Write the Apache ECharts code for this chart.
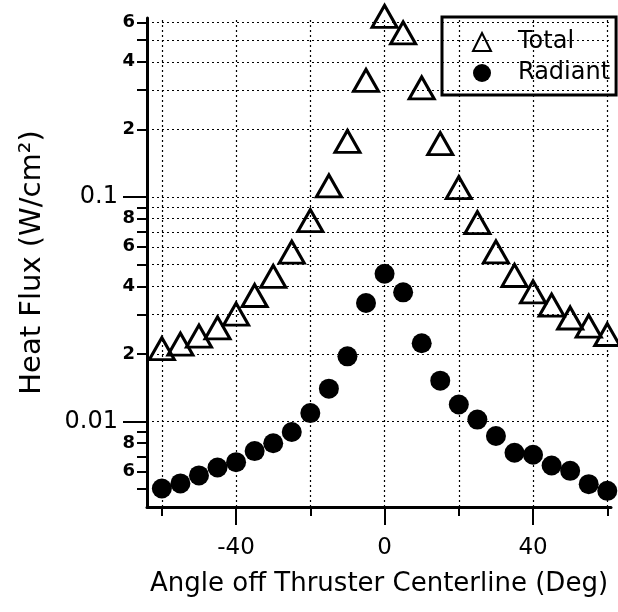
<!DOCTYPE html>
<html>
<head>
<meta charset="utf-8">
<script src="https://cdn.jsdelivr.net/npm/echarts@6/dist/echarts.min.js"></script>
<style>
  html, body { margin: 0; padding: 0; background: #fff; }
  #chart { width: 618px; height: 612px; }
</style>
</head>
<body>
<div id="chart"></div>
<script>
// angle off centerline (deg)
const angles = [-60, -55, -50, -45, -40, -35, -30, -25, -20, -15, -10, -5, 0,
                5, 10, 15, 20, 25, 30, 35, 40, 45, 50, 55, 60];
// heat flux, W/cm^2
const total = [0.0211, 0.0221, 0.0240, 0.0261, 0.0301, 0.0364, 0.0443, 0.0568, 0.0784,
               0.112, 0.177, 0.331, 0.637, 0.538, 0.306, 0.173, 0.110, 0.0769, 0.0570,
               0.0447, 0.0378, 0.0330, 0.0289, 0.0266, 0.0244];
const radiant = [0.00503, 0.00530, 0.00575, 0.00624, 0.00659, 0.00738, 0.00800, 0.00898,
                 0.0109, 0.0140, 0.0195, 0.0337, 0.0455, 0.0376, 0.0223, 0.0152, 0.0119,
                 0.0102, 0.00862, 0.00726, 0.00711, 0.00637, 0.00603, 0.00526, 0.00491];

// axis ticks
const xMinorTicks = [-60, -20, 20, 60];
const xMajorTicks = [-40, 0, 40];
const xGrid = [-60, -40, -20, 0, 20, 40, 60];
const yMajorTicks = [0.01, 0.1];
const yMinorTicks = [0.005, 0.006, 0.007, 0.008, 0.009,
                     0.02, 0.03, 0.04, 0.05, 0.06, 0.07, 0.08, 0.09,
                     0.2, 0.3, 0.4, 0.5, 0.6];
const yMinorLabels = [0.006, 0.008, 0.02, 0.04, 0.06, 0.08, 0.2, 0.4, 0.6];

const chart = echarts.init(document.getElementById('chart'));

const font = 'DejaVu Sans';
const black = '#000';
const dotted = { color: '#000', width: 1.2, type: [2, 3] };

function digit(v) {
    const p = Math.pow(10, Math.floor(Math.log10(v) + 1e-9));
    return String(Math.round(v / p));
}

const xBase = {
    type: 'value',
    min: -64,
    max: 61,
    splitLine: { show: false }
};
const yBase = {
    type: 'log',
    logBase: 10,
    min: 0.00416,
    max: 0.627,
    position: 'left',
    splitLine: { show: false }
};

const option = {
    backgroundColor: '#fff',
    animation: false,
    grid: { left: 147, right: 7, top: 18, bottom: 105 },
    legend: {
        orient: 'vertical',
        left: 442,
        top: 17,
        padding: [13, 6, 10, 30],
        itemWidth: 18,
        itemHeight: 18,
        itemGap: 7,
        borderColor: black,
        borderWidth: 3,
        borderRadius: 0,
        backgroundColor: '#fff',
        selectedMode: false,
        textStyle: { color: black, fontSize: 24, fontFamily: font, padding: [0, 0, 0, 22] },
        data: ['Total', 'Radiant']
    },
    xAxis: [
        Object.assign({}, xBase, {
            axisLine: { show: true, onZero: false, lineStyle: { color: black, width: 3 } },
            axisTick: { show: true, customValues: xMinorTicks, length: 9, lineStyle: { color: black, width: 2 } },
            axisLabel: { show: false }
        }),
        Object.assign({}, xBase, {
            position: 'bottom',
            axisLine: { show: false, onZero: false },
            axisTick: { show: true, customValues: xMajorTicks, length: 18, lineStyle: { color: black, width: 2 } },
            axisLabel: {
                customValues: xMajorTicks,
                color: black,
                fontSize: 23,
                fontFamily: font,
                margin: 30,
                formatter: v => String(v)
            },
            name: 'Angle off Thruster Centerline (Deg)',
            nameLocation: 'middle',
            nameGap: 64,
            nameTextStyle: { color: black, fontSize: 26, fontFamily: font }
        })
    ],
    yAxis: [
        Object.assign({}, yBase, {
            axisLine: { show: true, onZero: false, lineStyle: { color: black, width: 3 } },
            axisTick: { show: true, customValues: yMajorTicks, length: 24, lineStyle: { color: black, width: 2 } },
            axisLabel: {
                customValues: yMajorTicks,
                color: black,
                fontSize: 24,
                fontFamily: font,
                margin: 29,
                formatter: v => String(v)
            },
            name: 'Heat Flux (W/cm²)',
            nameLocation: 'middle',
            nameGap: 100,
            nameTextStyle: { color: black, fontSize: 29, fontFamily: font }
        }),
        Object.assign({}, yBase, {
            axisLine: { show: false, onZero: false },
            axisTick: { show: true, customValues: yMinorTicks, length: 10, lineStyle: { color: black, width: 2 } },
            axisLabel: {
                customValues: yMinorLabels,
                color: black,
                fontSize: 18,
                fontWeight: 'bold',
                fontFamily: font,
                margin: 12,
                formatter: v => digit(v)
            }
        })
    ],
    series: [
        {
            name: 'grid',
            type: 'scatter',
            data: [],
            z: 1,
            silent: true,
            markLine: {
                silent: true,
                symbol: ['none', 'none'],
                label: { show: false },
                lineStyle: dotted,
                emphasis: { disabled: true },
                data: xGrid.map(v => ({ xAxis: v }))
                    .concat(yMajorTicks.concat(yMinorTicks).map(v => ({ yAxis: v })))
            }
        },
        {
            name: 'Total',
            type: 'scatter',
            clip: false,
            z: 3,
            symbol: 'triangle',
            symbolSize: [25, 22],
            itemStyle: { color: 'rgba(255,255,255,0)', borderColor: black, borderWidth: 3, opacity: 1 },
            data: angles.map((a, i) => [a, total[i]])
        },
        {
            name: 'Radiant',
            type: 'scatter',
            clip: false,
            z: 3,
            symbol: 'circle',
            symbolSize: 20,
            itemStyle: { color: black, opacity: 1 },
            data: angles.map((a, i) => [a, radiant[i]])
        }
    ]
};

chart.setOption(option);
window.addEventListener('resize', () => chart.resize());
</script>
</body>
</html>
